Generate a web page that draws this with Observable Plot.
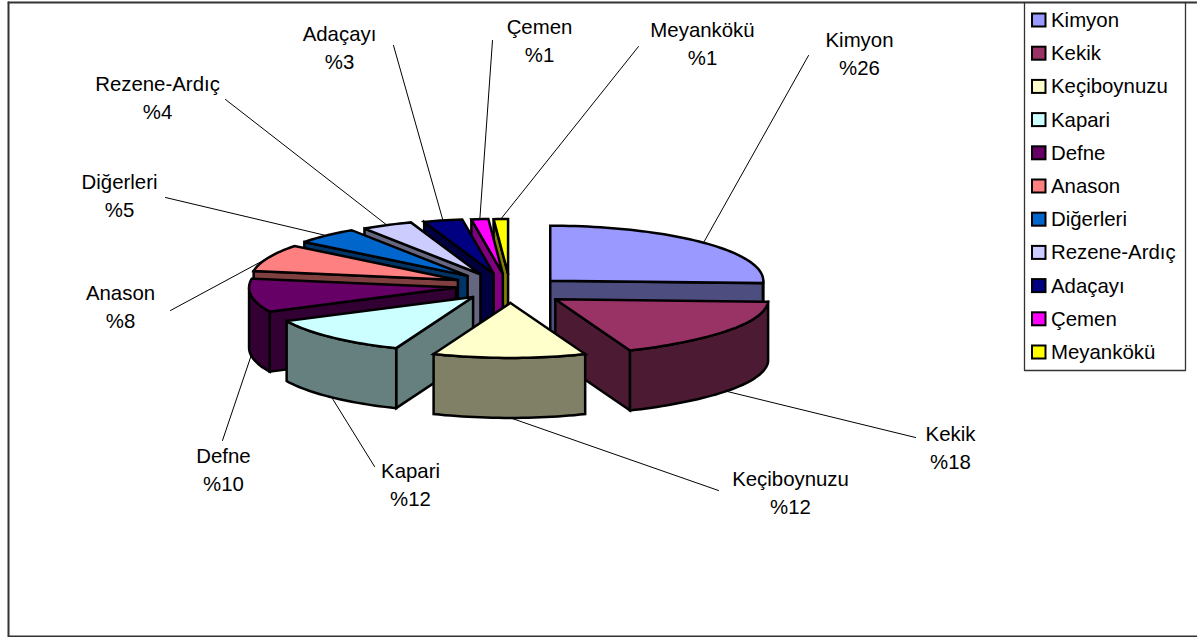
<!DOCTYPE html>
<html><head><meta charset="utf-8">
<style>html,body{margin:0;padding:0;background:#fff}svg{display:block}</style>
<script src="https://cdn.jsdelivr.net/npm/d3@7"></script>
<script src="https://cdn.jsdelivr.net/npm/@observablehq/plot@0.6"></script>
</head><body>
<script>
// Data
const names  = ["Kimyon","Kekik","Keçiboynuzu","Kapari","Defne","Anason","Diğerleri","Rezene-Ardıç","Adaçayı","Çemen","Meyankökü"];
const shares = [25.7,18.3,12.0,11.8,9.8,8.0,5.0,4.0,3.0,1.3,1.1];
const colors = ["#9999FF","#993366","#FFFFCC","#CCFFFF","#660066","#FF8080","#0066CC","#CCCCFF","#000080","#FF00FF","#FFFF00"];
// Hand-placed label anchors of the reference (centre of first text line)
const labelX = [859,950,790,410,223,120,119,157,339,539,702];
const labelY = [40,434,479,471,456,293,182,84,34,27,30];
const leaderEndX = [808,915,718,374,222,170,165,225,393,492,638];
const leaderEndY = [55,437,490,466,440,310,197,99,45,40,46];

// Pie layout (in page units of the position scales)
const W = 1197, H = 637;
const cx = 510, cy = 288, rxE = 213, rxW = 207, ry = 55, depth = 60, explode = 0.262;
const total = d3.sum(shares);
let acc = 0;
const slices = names.map((name,i)=>{
  const a0 = acc/total*2*Math.PI; acc += shares[i]; const a1 = acc/total*2*Math.PI;
  const m = (a0+a1)/2;
  const backLeft = Math.min(0,Math.sin(m))*Math.max(0,Math.cos(m))**2;
  const ax = cx + 210*explode*Math.sin(m) + 15*backLeft;
  const ay = cy - ry*explode*Math.cos(m) + 3*Math.sin(m);
  return {name,i,a0,a1,m,ax,ay,share:shares[i],color:colors[i]};
});
const rim = (s,t)=>{
  const frontRight = Math.max(0,Math.sin(t))*Math.cos(t)**4*(Math.cos(t)<0?1:0);
  const r = (rxE+rxW)/2 + (rxE-rxW)/2*Math.sin(t) - 30*frontRight;
  return [s.ax + r*Math.sin(t), s.ay - ry*Math.cos(t)];
};
const dark = c=>{const k=d3.rgb(c);return d3.rgb(k.r*.5,k.g*.5,k.b*.5).formatHex();};
const steps = (a,b)=>{const n=Math.max(2,Math.ceil((b-a)/0.03));return d3.range(n+1).map(j=>a+(b-a)*j/n);};

const rows = []; let pid = 0;
const addPoly = (pts,fill)=>{ const id=pid++; [...pts,pts[0]].forEach(([x,y])=>rows.push({id,x,y,fill})); };
// painter's order: farthest from the viewer first
const drawOrder = [...slices].sort((p,q)=>Math.cos(q.m)-Math.cos(p.m));
for (const s of drawOrder) {
  const wall = dark(s.color);
  const top = [s.ax,s.ay];
  // visible radial faces
  if (Math.sin(s.a0) < -1e-6) { const p=rim(s,s.a0); addPoly([top,p,[p[0],p[1]+depth],[top[0],top[1]+depth]],wall); }
  if (Math.sin(s.a1) >  1e-6) { const p=rim(s,s.a1); addPoly([top,p,[p[0],p[1]+depth],[top[0],top[1]+depth]],wall); }
  // outer wall: part of the rim facing the viewer
  const lo = Math.max(s.a0,Math.PI/2), hi = Math.min(s.a1,3*Math.PI/2);
  if (hi>lo) {
    const up = steps(lo,hi).map(t=>rim(s,t));
    addPoly([...up,...[...up].reverse().map(([x,y])=>[x,y+depth])],wall);
  }
  // top face
  addPoly([top,...steps(s.a0,s.a1).map(t=>rim(s,t))],s.color);
}

// Leader lines start on the slice edge at its mid-angle
const leaders = slices.flatMap(s=>{
  const p = rim(s,s.m);
  const front = Math.cos(s.m) < -0.1;
  return [{i:s.i,x:p[0],y:p[1]+(front?depth:0)},{i:s.i,x:leaderEndX[s.i],y:leaderEndY[s.i]}];
});

const labels = slices.flatMap(s=>[
  {x:labelX[s.i],y:labelY[s.i],t:s.name},
  {x:labelX[s.i],y:labelY[s.i]+27.5,t:"%"+Math.round(s.share)}
]);

// Legend layout
const legTop=20, legStep=33.2;
const legend = names.map((n,i)=>({n,c:colors[i],yc:legTop+i*legStep}));
const frame = [
  {x:8,y:2,k:0},{x:8,y:636,k:0},{x:W,y:636,k:0},
  {x:8,y:2,k:1},{x:W,y:2,k:1}
];
const legBox = [{x:1024,y:2},{x:1024,y:370},{x:1185,y:370},{x:1185,y:2}];

const font = "'Liberation Sans',Arial,sans-serif";
const chart = Plot.plot({
  width:W,height:H,margin:0,
  style:{background:"#fff",fontFamily:font},
  x:{domain:[0,W],range:[0,W],axis:null},
  y:{domain:[0,H],range:[0,H],axis:null},
  marks:[
    Plot.line(frame,{x:"x",y:"y",z:"k",stroke:"#333",strokeWidth:2}),
    Plot.line(legBox,{x:"x",y:"y",stroke:"#333",strokeWidth:1.3}),
    Plot.line(leaders,{x:"x",y:"y",z:"i",stroke:"#000",strokeWidth:1}),
    Plot.line(rows,{x:"x",y:"y",z:"id",fill:"fill",stroke:"#000",strokeWidth:2.5,strokeLinejoin:"miter",strokeMiterlimit:3}),
    Plot.text(labels,{x:"x",y:"y",text:"t",fontSize:20.4,fill:"#000",textAnchor:"middle",lineAnchor:"middle"}),
    Plot.rect(legend,{x1:()=>1032,x2:()=>1045.5,y1:d=>d.yc-6.5,y2:d=>d.yc+6.5,fill:"c",stroke:"#000",strokeWidth:2}),
    Plot.text(legend,{x:()=>1050.5,y:"yc",text:"n",fontSize:20.4,fill:"#000",textAnchor:"start",lineAnchor:"middle"})
  ]
});
document.body.appendChild(chart);
</script>
</body></html>
